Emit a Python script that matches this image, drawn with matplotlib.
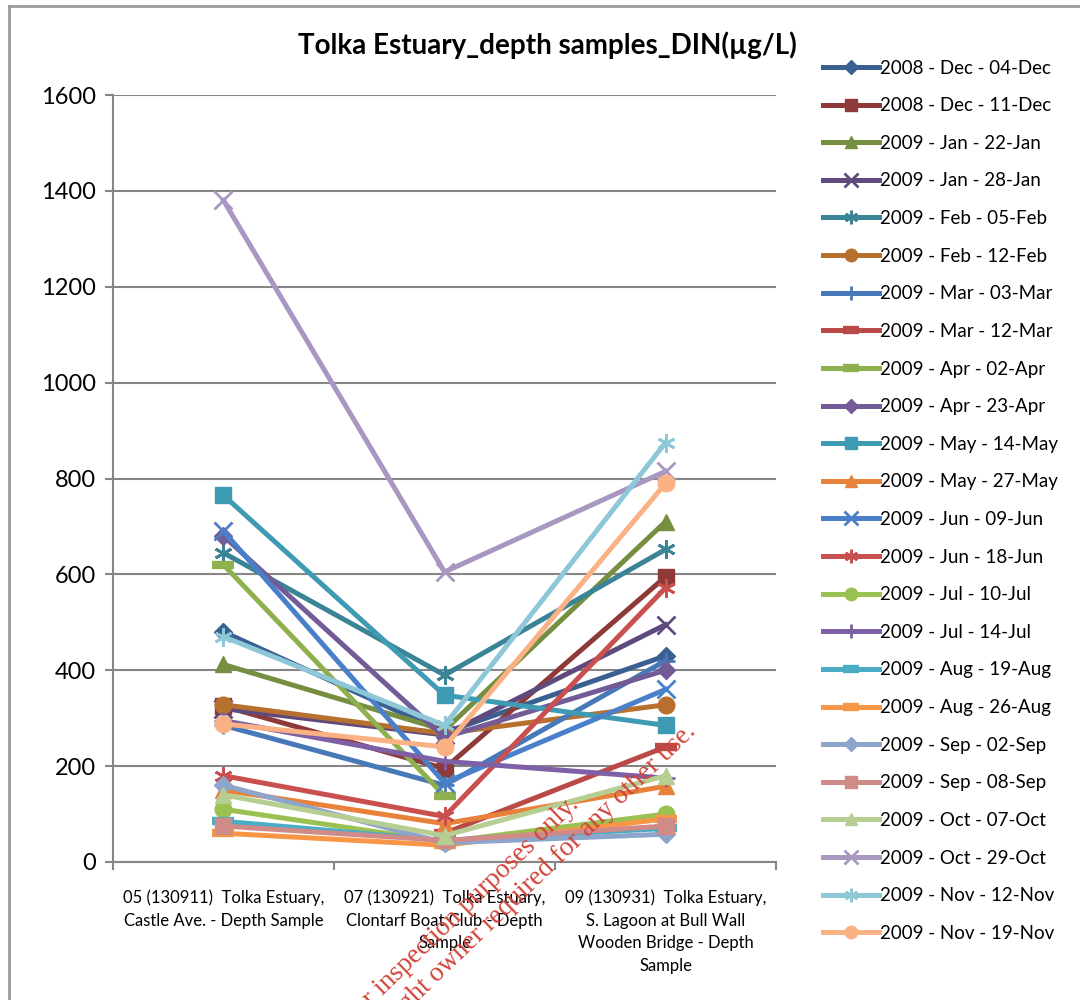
import numpy as np
import matplotlib.pyplot as plt
from matplotlib.lines import Line2D

plt.rcParams['font.family'] = ['Lato', 'DejaVu Sans']

sites = [
    "05 (130911)  Tolka Estuary,\nCastle Ave. - Depth Sample",
    "07 (130921)  Tolka Estuary,\nClontarf Boat Club - Depth\nSample",
    "09 (130931)  Tolka Estuary,\nS. Lagoon at Bull Wall\nWooden Bridge - Depth\nSample",
]

dates = [
    "2008 - Dec - 04-Dec", "2008 - Dec - 11-Dec", "2009 - Jan - 22-Jan",
    "2009 - Jan - 28-Jan", "2009 - Feb - 05-Feb", "2009 - Feb - 12-Feb",
    "2009 - Mar - 03-Mar", "2009 - Mar - 12-Mar", "2009 - Apr - 02-Apr",
    "2009 - Apr - 23-Apr", "2009 - May - 14-May", "2009 - May - 27-May",
    "2009 - Jun - 09-Jun", "2009 - Jun - 18-Jun", "2009 - Jul - 10-Jul",
    "2009 - Jul - 14-Jul", "2009 - Aug - 19-Aug", "2009 - Aug - 26-Aug",
    "2009 - Sep - 02-Sep", "2009 - Sep - 08-Sep", "2009 - Oct - 07-Oct",
    "2009 - Oct - 29-Oct", "2009 - Nov - 12-Nov", "2009 - Nov - 19-Nov",
]

nan = np.nan
# DIN (ug/L) per date at each site
castle_ave = [480, 325, 412, 320, 645, 328, 285, nan, 620, 680, 765, 150,
              690, 180, 110, 295, 85, 60, 160, 75, 140, 1380, 470, 288]
clontarf = [270, 195, 275, 265, 390, 268, 160, 60, 138, 260, 348, 80,
            165, 95, 42, 210, 45, 35, 40, 45, 55, 605, 285, 240]
bull_wall = [430, 595, 710, 495, 652, 328, 420, 240, nan, 400, 285, 158,
             360, 572, 100, 175, 70, 90, 58, 75, 180, 815, 875, 790]

colors = [
    "#3a5f91", "#8e3a38", "#758e40", "#5e4a7c", "#3a8495", "#b8702f",
    "#4778b7", "#b94a47", "#8eb04e", "#735b98", "#3f9bb3", "#e8823a",
    "#4a80c9", "#c9504e", "#9bc152", "#7e60a6", "#4bacc6", "#f79646",
    "#8ea5cb", "#d08a88", "#b7ce93", "#a897c0", "#8dc7d8", "#fab285",
]
markers = ["D", "s", "^", "x", (6, 2, 0), "o", "+", "_", "_",
           "D", "s", "^", "x", (6, 2, 0), "o", "+", "_", "_",
           "D", "s", "^", "x", (6, 2, 0), "o"]
msizes = {"D": 9, "s": 12, "^": 12, "x": 13, "o": 12, "+": 13, "_": 16}

fig = plt.figure(figsize=(10.8, 10), dpi=100)
ax = fig.add_axes([0.1046, 0.138, 0.614, 0.767])

x = np.arange(len(sites))
for i, name in enumerate(dates):
    y = [castle_ave[i], clontarf[i], bull_wall[i]]
    m = markers[i]
    ms = msizes.get(m, 13) if not isinstance(m, tuple) else 13
    mew = 2 if m in ("x", "+") or isinstance(m, tuple) else 1
    if m == "_":
        mew = 6
    ax.plot(x, y, color=colors[i], lw=3.6, marker=m, ms=ms, mew=mew,
            mec=colors[i], mfc=colors[i], label=name, solid_joinstyle="round")

ax.set_xlim(-0.5, 2.5)
ax.set_ylim(0, 1600)
ax.set_yticks(range(0, 1601, 200))
ax.set_xticks(x)
ax.set_xticklabels(sites, fontsize=12, linespacing=1.5)
ax.set_xticks([-0.5, 0.5, 1.5, 2.5], minor=True)
ax.tick_params(axis="x", which="major", length=0, pad=20)
ax.tick_params(axis="x", which="minor", length=6, color="#868686", width=1.5)
ax.tick_params(axis="y", length=6, color="#868686", width=1.5, labelsize=17,
               pad=6)
ax.grid(axis="y", color="#868686", lw=1.5)
ax.set_axisbelow(True)
for s in ("top", "right"):
    ax.spines[s].set_visible(False)
for s in ("left", "bottom"):
    ax.spines[s].set_color("#868686")
    ax.spines[s].set_linewidth(1.5)

fig.text(0.507, 0.955, "Tolka Estuary_depth samples_DIN(µg/L)", ha="center",
         va="center", fontsize=20, fontweight="bold")

fig.legend(loc="upper left", bbox_to_anchor=(0.755, 0.948), frameon=False,
           fontsize=13.5, handlelength=3.0, labelspacing=1.1,
           handletextpad=0.05, borderaxespad=0, markerscale=0.75)

# chart area border (cut by the image edge)
fig.add_artist(Line2D([0.0085, 0.0085], [0, 0.994], color="#9a9a9a", lw=2,
                      transform=fig.transFigure))
fig.add_artist(Line2D([0.0085, 1], [0.994, 0.994], color="#9a9a9a", lw=2,
                      transform=fig.transFigure))

# watermark
wm = dict(color="#d0453a", fontsize=19.5, family=["Liberation Serif"],
          rotation=44, rotation_mode="anchor", ha="right", va="baseline")
fig.text(0.537, 0.194, "For inspection purposes only.", **wm)
fig.text(0.645, 0.268,
         "Consent of copyright owner required for any other use.", **wm)

fig.savefig("out.png", dpi=100)
